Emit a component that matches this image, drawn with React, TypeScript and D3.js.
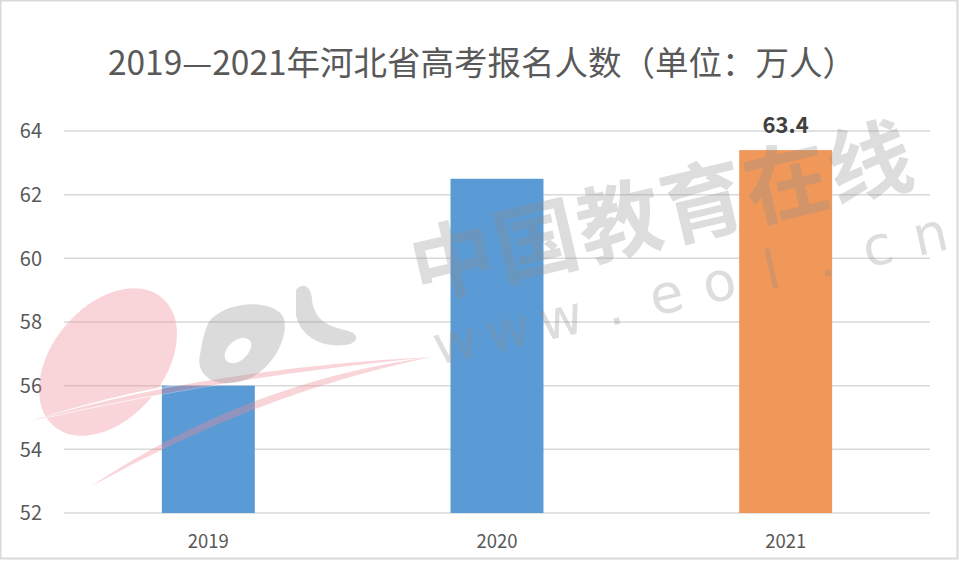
import React from "react";
import * as d3 from "d3";

const categories = ["2019", "2020", "2021"];
const values = [56, 62.5, 63.4];
const barColors = ["#5b9bd5", "#5b9bd5", "#f0975a"];
const yTicks = [52, 54, 56, 58, 60, 62, 64];
const labelValue = ["", "", "63.4"];
const title = "2019—2021年河北省高考报名人数（单位：万人）";
const wmChars = ["中", "国", "教", "育", "在", "线"];
const wmUrl = ["w", "w", "w", ".", "e", "o", "l", ".", "c", "n"];

const W = 960;
const H = 564;
const margin = { left: 64, right: 30, top: 131, bottom: 51 };

export default function App() {
  const x = d3
    .scaleBand<string>()
    .domain(categories)
    .range([margin.left, W - margin.right])
    .paddingInner(0.678)
    .paddingOuter(0.339);
  const y = d3.scaleLinear().domain([52, 64]).range([H - margin.bottom, margin.top]);
  const font = "'Noto Sans CJK SC', 'Open Sans', sans-serif";

  const wmStart = [453, 262];
  const wmEnd = [870, 164];
  const urlStart = [455, 342];
  const urlEnd = [930, 234];
  const ang1 = (Math.atan2(wmEnd[1] - wmStart[1], wmEnd[0] - wmStart[0]) * 180) / Math.PI;
  const ang2 = (Math.atan2(urlEnd[1] - urlStart[1], urlEnd[0] - urlStart[0]) * 180) / Math.PI;

  return (
    <svg
      width={W}
      height={H}
      style={{ position: "absolute", left: 0, top: 0, background: "#fff" }}
      fontFamily={font}
    >
      <rect x={0.5} y={0.5} width={W - 3} height={H - 6} fill="#fff" stroke="#d9d9d9" strokeWidth={2} />
      <text x={W / 2 + 2} y={75} textAnchor="middle" fontSize={33.5} fill="#595959">
        {title}
      </text>
      {yTicks.map((t) => (
        <g key={t}>
          <line x1={margin.left} x2={W - margin.right} y1={y(t)} y2={y(t)} stroke="#d9d9d9" strokeWidth={1.5} />
          <text x={42} y={y(t)} dy="0.36em" textAnchor="end" fontSize={20} fill="#595959">
            {t}
          </text>
        </g>
      ))}
      {categories.map((c, i) => (
        <g key={c}>
          <rect
            x={x(c)}
            y={y(values[i])}
            width={x.bandwidth()}
            height={y(52) - y(values[i])}
            fill={barColors[i]}
          />
          <text
            x={(x(c) as number) + x.bandwidth() / 2}
            y={548}
            textAnchor="middle"
            fontSize={18.5}
            fill="#595959"
          >
            {c}
          </text>
          {labelValue[i] && (
            <text
              x={(x(c) as number) + x.bandwidth() / 2}
              y={y(values[i]) - 17}
              textAnchor="middle"
              fontSize={22}
              fontWeight="bold"
              fill="#404040"
            >
              {labelValue[i]}
            </text>
          )}
        </g>
      ))}
      <g opacity={0.35}>
        <ellipse cx={108} cy={362} rx={84} ry={56} transform="rotate(-50 108 362)" fill="#ef8a95" />
        <path d="M28,422 Q200,365 432,358 Q220,378 28,422 Z" fill="#ffffff" />
        <path d="M90,487 Q250,380 432,357 Q260,392 90,487 Z" fill="#ef8a95" />
        <path d="M30,421 Q210,368 432,357 Q215,378 30,421 Z" fill="#ef8a95" />
      </g>
      <g opacity={0.32} fill="#909090">
        <path
          fillRule="evenodd"
          d="M210,320 C230,300 270,300 282,315 C292,330 275,370 245,380 C215,390 195,375 200,355 C202,342 205,328 210,320 Z M236,340 C245,335 255,340 250,350 C246,360 232,368 226,360 C222,354 228,344 236,340 Z"
        />
        <path d="M296,290 C305,280 312,290 312,300 C314,318 326,326 345,330 C360,333 360,343 345,345 C320,348 300,335 296,315 Z" />
      </g>
      <g fill="#8c8c8c" opacity={0.3} fontWeight="bold">
        {wmChars.map((ch, i) => {
          const t = i / (wmChars.length - 1);
          const cx = wmStart[0] + t * (wmEnd[0] - wmStart[0]);
          const cy = wmStart[1] + t * (wmEnd[1] - wmStart[1]);
          return (
            <text
              key={i}
              x={cx}
              y={cy}
              dy="0.35em"
              textAnchor="middle"
              fontSize={84}
              transform={`rotate(${ang1} ${cx} ${cy})`}
            >
              {ch}
            </text>
          );
        })}
        {wmUrl.map((ch, i) => {
          const t = i / (wmUrl.length - 1);
          const cx = urlStart[0] + t * (urlEnd[0] - urlStart[0]);
          const cy = urlStart[1] + t * (urlEnd[1] - urlStart[1]);
          return (
            <text
              key={"u" + i}
              x={cx}
              y={cy}
              dy="0.35em"
              textAnchor="middle"
              fontSize={54}
              fontFamily="'DejaVu Sans', sans-serif"
              fontWeight="normal"
              transform={`rotate(${ang2} ${cx} ${cy})`}
            >
              {ch}
            </text>
          );
        })}
      </g>
    </svg>
  );
}
